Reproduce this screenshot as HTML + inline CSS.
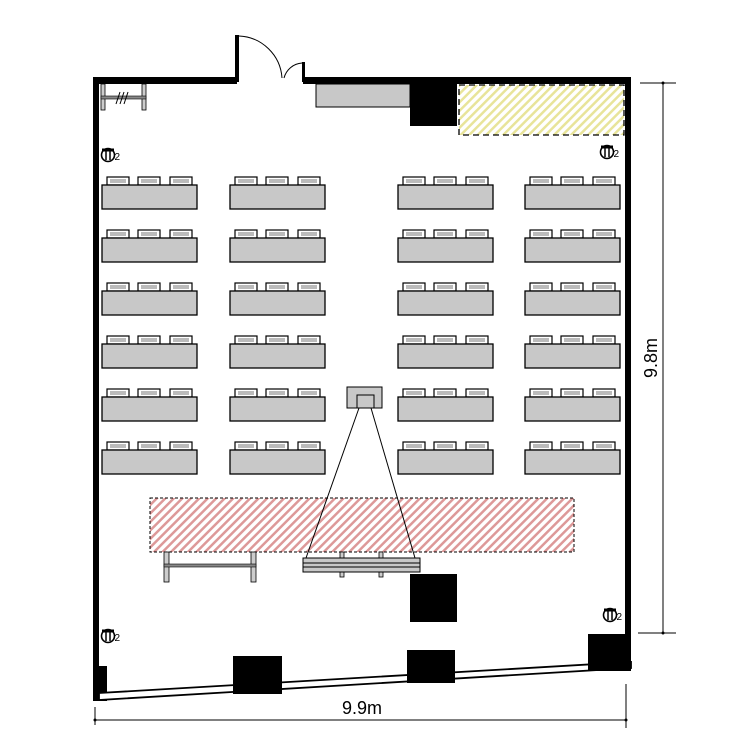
<!DOCTYPE html>
<html><head><meta charset="utf-8"><style>body{margin:0;background:#fff}svg{display:block}</style></head><body>
<svg width="750" height="750" viewBox="0 0 750 750" xmlns="http://www.w3.org/2000/svg">
<defs>
<pattern id="red" width="6" height="6" patternUnits="userSpaceOnUse" patternTransform="rotate(45)"><rect width="6" height="6" fill="#fff"/><rect width="2.5" height="6" fill="#d99"/></pattern>
<pattern id="yel" width="6" height="6" patternUnits="userSpaceOnUse" patternTransform="rotate(45)"><rect width="6" height="6" fill="#fff"/><rect width="2.5" height="6" fill="#e8e49a"/></pattern>
<g id="ch">
<rect x="0" y="-8" width="22" height="8" fill="#fff" stroke="#000" stroke-width="1.2"/>
<rect x="3" y="-6" width="16" height="4" fill="#bbb"/>
</g>
<g id="desk">
<use href="#ch" x="5"/><use href="#ch" x="36"/><use href="#ch" x="68"/>
<rect x="0" y="0" width="95" height="24" fill="#c8c8c8" stroke="#000" stroke-width="1.3"/>
</g>
<g id="out">
<circle cx="0" cy="0" r="6.5" fill="#fff" stroke="#000" stroke-width="1.6"/>
<line x1="-2" y1="-5" x2="-2" y2="5" stroke="#000" stroke-width="1.5"/><line x1="2" y1="-5" x2="2" y2="5" stroke="#000" stroke-width="1.5"/>
<rect x="-6" y="-6.5" width="12" height="3" fill="#000"/>
<text x="6.5" y="5" font-family="Liberation Sans, sans-serif" font-size="10">2</text>
</g>
</defs>
<rect x="93" y="77" width="144" height="7" fill="#000"/>
<rect x="303" y="77" width="328" height="7" fill="#000"/>
<rect x="93" y="77" width="6" height="624" fill="#000"/>
<rect x="625" y="77" width="6" height="594" fill="#000"/>
<rect x="93" y="666" width="14" height="35" fill="#000"/>
<polygon points="99,693 631,662 631,668 99,700" fill="#fff" stroke="#000" stroke-width="1.8"/>
<rect x="235" y="35" width="4" height="47" fill="#000"/>
<path d="M239 36 A45 45 0 0 1 282 78" fill="none" stroke="#000" stroke-width="1"/>
<rect x="302" y="62" width="3" height="20" fill="#000"/>
<path d="M302 63 A20 20 0 0 0 284 78" fill="none" stroke="#000" stroke-width="1"/>
<rect x="101" y="84" width="4" height="26" fill="#ccc" stroke="#000" stroke-width="0.8"/>
<rect x="142" y="84" width="4" height="26" fill="#ccc" stroke="#000" stroke-width="0.8"/>
<rect x="101" y="96" width="45" height="3" fill="#888" stroke="#000" stroke-width="0.6"/>
<path d="M116 104 L120 92 M120 104 L124 92 M124 104 L128 92" stroke="#000" stroke-width="1"/>
<rect x="316" y="84" width="94" height="23" fill="#c8c8c8" stroke="#000" stroke-width="1"/>
<rect x="410" y="84" width="47" height="42" fill="#000"/>
<rect x="459" y="85" width="165" height="50" fill="url(#yel)" stroke="#000" stroke-width="1.3" stroke-dasharray="6,4"/>
<use href="#out" x="108" y="155"/><use href="#out" x="607" y="152"/>
<use href="#out" x="108" y="636"/><use href="#out" x="610" y="615"/>
<g>
<use href="#desk" x="102" y="185"/><use href="#desk" x="230" y="185"/><use href="#desk" x="398" y="185"/><use href="#desk" x="525" y="185"/>
<use href="#desk" x="102" y="238"/><use href="#desk" x="230" y="238"/><use href="#desk" x="398" y="238"/><use href="#desk" x="525" y="238"/>
<use href="#desk" x="102" y="291"/><use href="#desk" x="230" y="291"/><use href="#desk" x="398" y="291"/><use href="#desk" x="525" y="291"/>
<use href="#desk" x="102" y="344"/><use href="#desk" x="230" y="344"/><use href="#desk" x="398" y="344"/><use href="#desk" x="525" y="344"/>
<use href="#desk" x="102" y="397"/><use href="#desk" x="230" y="397"/><use href="#desk" x="398" y="397"/><use href="#desk" x="525" y="397"/>
<use href="#desk" x="102" y="450"/><use href="#desk" x="230" y="450"/><use href="#desk" x="398" y="450"/><use href="#desk" x="525" y="450"/>
</g>
<rect x="347" y="387" width="35" height="21" fill="#c8c8c8" stroke="#000" stroke-width="1"/>
<rect x="357" y="395" width="17" height="13" fill="#c8c8c8" stroke="#000" stroke-width="1"/>
<rect x="150" y="498" width="424" height="54" fill="url(#red)" stroke="#000" stroke-width="1" stroke-dasharray="3,2"/>
<line x1="359" y1="408" x2="306" y2="558" stroke="#000" stroke-width="1"/>
<line x1="371" y1="408" x2="415" y2="558" stroke="#000" stroke-width="1"/>
<rect x="164" y="552" width="5" height="30" fill="#ccc" stroke="#000" stroke-width="0.8"/>
<rect x="251" y="552" width="5" height="30" fill="#ccc" stroke="#000" stroke-width="0.8"/>
<rect x="164" y="564" width="92" height="3" fill="#888" stroke="#000" stroke-width="0.6"/>
<rect x="340" y="552" width="4" height="25" fill="#ccc" stroke="#000" stroke-width="0.8"/>
<rect x="379" y="552" width="4" height="25" fill="#ccc" stroke="#000" stroke-width="0.8"/>
<rect x="303" y="558" width="117" height="14" fill="#c8c8c8" stroke="#000" stroke-width="1"/>
<line x1="303" y1="563" x2="420" y2="563" stroke="#000" stroke-width="1"/>
<line x1="303" y1="567" x2="420" y2="567" stroke="#000" stroke-width="1"/>
<rect x="410" y="574" width="47" height="48" fill="#000"/>
<rect x="233" y="656" width="49" height="38" fill="#000"/>
<rect x="407" y="650" width="48" height="33" fill="#000"/>
<rect x="588" y="634" width="43" height="37" fill="#000"/>
<line x1="640" y1="83" x2="676" y2="83" stroke="#000"/>
<line x1="638" y1="633" x2="676" y2="633" stroke="#000"/>
<line x1="663" y1="83" x2="663" y2="633" stroke="#000"/>
<circle cx="663" cy="83" r="1.5"/><circle cx="663" cy="633" r="1.5"/>
<text x="0" y="0" transform="translate(657,358) rotate(-90)" text-anchor="middle" font-family="Liberation Sans, sans-serif" font-size="18">9.8m</text>
<line x1="95" y1="707" x2="95" y2="725" stroke="#000"/>
<line x1="626" y1="684" x2="626" y2="728" stroke="#000"/>
<line x1="95" y1="720" x2="626" y2="720" stroke="#000"/>
<circle cx="95" cy="720" r="1.5"/><circle cx="626" cy="720" r="1.5"/>
<text x="362" y="714" text-anchor="middle" font-family="Liberation Sans, sans-serif" font-size="18">9.9m</text>
</svg>
</body></html>
